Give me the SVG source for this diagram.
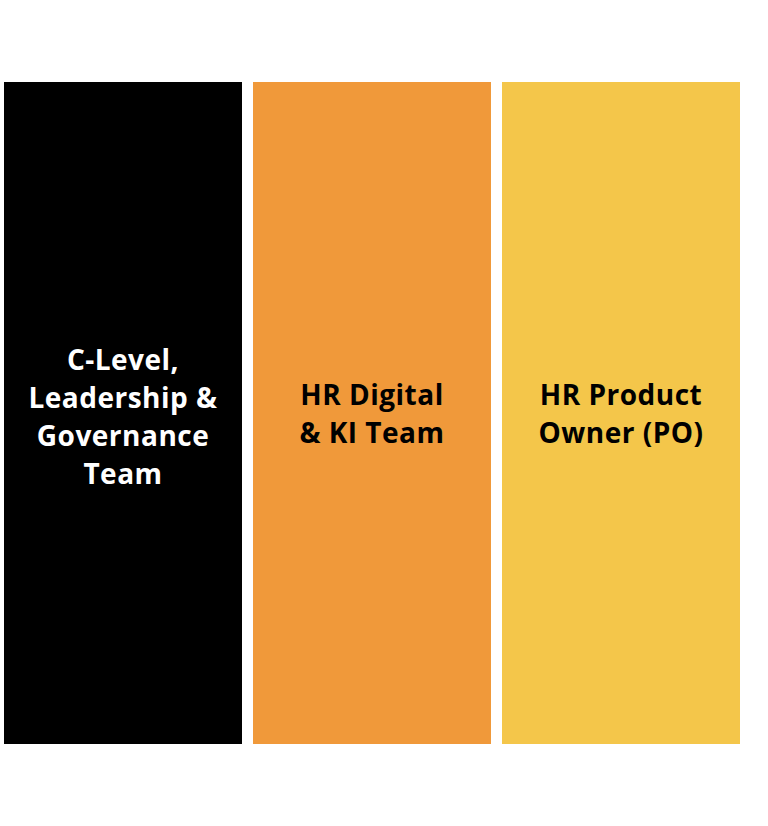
<svg xmlns="http://www.w3.org/2000/svg" width="768" height="826" viewBox="0 0 768 826">
<style>
.col{stroke:none}
.lbl{font-family:"Open Sans","Liberation Sans",sans-serif;font-weight:700;font-size:28px;letter-spacing:0.5px;text-anchor:middle}
.w{fill:#ffffff}
.k{fill:#000000}
</style>
<rect x="0" y="0" width="768" height="826" fill="#ffffff"/>
<g id="connectors"></g>
<g id="node-clevel">
<rect class="col" x="4" y="82" width="238" height="662" fill="#000000"/>
<text class="lbl w" x="123" y="370">C-Level,</text>
<text class="lbl w" x="123" y="408">Leadership &amp;</text>
<text class="lbl w" x="123" y="446">Governance</text>
<text class="lbl w" x="123" y="484">Team</text>
</g>
<g id="node-hrdigital">
<rect class="col" x="253" y="82" width="238" height="662" fill="#F0993A"/>
<text class="lbl k" x="372" y="405">HR Digital</text>
<text class="lbl k" x="372" y="443">&amp; KI Team</text>
</g>
<g id="node-po">
<rect class="col" x="502" y="82" width="238" height="662" fill="#F4C64A"/>
<text class="lbl k" x="621" y="405">HR Product</text>
<text class="lbl k" x="621" y="443">Owner (PO)</text>
</g>
</svg>
